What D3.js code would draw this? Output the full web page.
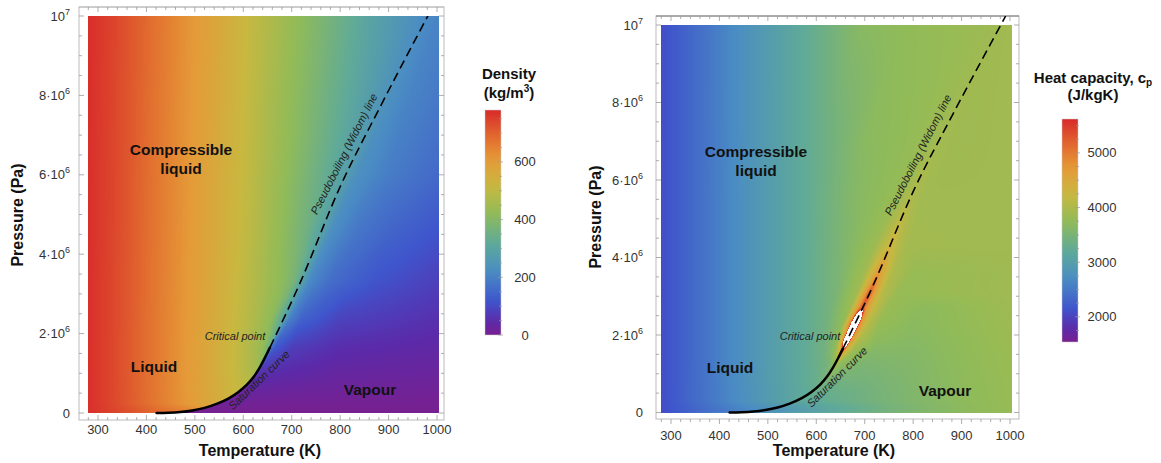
<!DOCTYPE html>
<html>
<head>
<meta charset="utf-8">
<title>Density and heat capacity maps</title>
<script src="https://cdnjs.cloudflare.com/ajax/libs/d3/7.8.5/d3.min.js"></script>
<style>
  body { margin: 0; background: #fff; }
  svg { display: block; }
  text { font-family: "Liberation Sans", Arial, sans-serif; }
</style>
</head>
<body>
<svg id="chart" width="1161" height="463"></svg>
<script>
/* global d3 */
// saturation curve, T (K) against P (Pa)
var satT = [421, 445, 470, 495, 520, 545, 570, 590, 608, 622, 635, 645, 655]
var satP = [0, 0.006e6, 0.025e6, 0.065e6, 0.13e6, 0.23e6, 0.37e6, 0.53e6, 0.72e6, 0.92e6, 1.17e6, 1.4e6, 1.65e6]
// pseudoboiling (Widom) line, from the critical point up
var widomT = [655, 717, 800, 883, 981, 991]
var widomP = [1.65e6, 3.27e6, 5.7e6, 7.72e6, 10e6, 10.23e6]

var tempTicks = [300, 400, 500, 600, 700, 800, 900, 1000]
var pressTicks = [0, 2e6, 4e6, 6e6, 8e6, 10e6]
var densityTicks = [0, 200, 400, 600]
var cpTicks = [2000, 3000, 4000, 5000]
var tempRange = [280, 1005]
var densityRange = [0, 780]
var cpRange = [1540, 5620]

// density (kg/m3), read row by row: [T, rho] left of the boundary and right of it
var densityP = [0, 0.25e6, 0.6e6, 1.1e6, 1.65e6, 2.4e6, 3.3e6, 4.5e6, 6e6, 8e6, 10.23e6]
var densityLiquid = [
  [[280, 772], [330, 738], [380, 698], [421, 668]],
  [[280, 772], [330, 738], [380, 698], [440, 646], [500, 592], [548, 550]],
  [[280, 772], [330, 738], [380, 698], [440, 646], [500, 592], [550, 546], [596, 500]],
  [[280, 772], [330, 738], [380, 698], [440, 646], [500, 592], [560, 534], [610, 478], [631, 448]],
  [[280, 772], [330, 738], [380, 698], [440, 646], [500, 593], [560, 536], [610, 480], [640, 430], [655, 340]],
  [[280, 772], [330, 739], [380, 699], [440, 647], [500, 594], [560, 538], [620, 475], [660, 415], [684, 300]],
  [[280, 772], [330, 739], [380, 700], [440, 648], [500, 596], [560, 541], [620, 481], [680, 415], [705, 370], [718, 300]],
  [[280, 773], [330, 740], [380, 701], [440, 650], [500, 598], [560, 545], [620, 488], [680, 420], [730, 355], [759, 290]],
  [[280, 773], [330, 741], [380, 702], [440, 652], [500, 601], [560, 549], [620, 493], [680, 430], [740, 365], [790, 310], [812, 275]],
  [[280, 774], [330, 742], [380, 704], [440, 655], [500, 604], [560, 553], [620, 497], [680, 440], [740, 385], [800, 330], [860, 275], [895, 240]],
  [[280, 775], [330, 744], [380, 706], [440, 658], [500, 608], [560, 558], [620, 503], [680, 452], [740, 400], [800, 350], [860, 298], [920, 255], [970, 222], [991, 212]]
]
var densityVapour = [
  [[421, 2], [1005, 1]],
  [[548, 14], [600, 11], [800, 7], [1005, 5]],
  [[596, 34], [650, 27], [800, 18], [1005, 13]],
  [[631, 70], [680, 52], [800, 33], [1005, 25]],
  [[655, 190], [665, 125], [700, 80], [800, 52], [1005, 38]],
  [[684, 300], [695, 205], [720, 145], [800, 88], [1005, 57]],
  [[718, 300], [735, 215], [780, 160], [870, 115], [1005, 80]],
  [[759, 290], [780, 225], [830, 178], [900, 145], [1005, 112]],
  [[812, 275], [835, 232], [900, 190], [1005, 153]],
  [[895, 240], [930, 210], [1005, 182]],
  [[991, 212], [1005, 205]]
]

// heat capacity cp (J/kgK), same layout
var cpP = [0, 0.3e6, 0.8e6, 1.3e6, 1.65e6, 1.9e6, 2.3e6, 2.7e6, 3.1e6, 3.6e6, 4.3e6, 5.5e6, 7e6, 10.23e6]
var cpLiquid = [
  [[280, 2080], [330, 2290], [380, 2480], [421, 2640]],
  [[280, 2080], [330, 2290], [380, 2480], [430, 2680], [480, 2880], [530, 3060], [557, 3150]],
  [[280, 2080], [330, 2290], [380, 2480], [430, 2680], [480, 2880], [530, 3060], [580, 3240], [614, 3400]],
  [[280, 2080], [330, 2290], [380, 2480], [430, 2680], [480, 2880], [530, 3060], [580, 3240], [620, 3430], [641, 3720]],
  [[280, 2080], [330, 2290], [380, 2480], [430, 2680], [480, 2880], [530, 3060], [580, 3240], [620, 3440], [640, 3750], [650, 4400], [655, 6000]],
  [[280, 2080], [330, 2290], [380, 2480], [430, 2680], [480, 2880], [530, 3060], [580, 3240], [620, 3430], [645, 3750], [656, 4800], [664.6, 9000]],
  [[280, 2080], [330, 2290], [380, 2480], [430, 2680], [480, 2880], [530, 3060], [580, 3240], [620, 3420], [655, 3750], [670, 4900], [680, 9000]],
  [[280, 2080], [330, 2290], [380, 2480], [430, 2680], [480, 2880], [530, 3060], [580, 3240], [630, 3460], [670, 3850], [686, 4700], [695, 5400]],
  [[280, 2080], [330, 2290], [380, 2480], [430, 2680], [480, 2880], [530, 3060], [580, 3240], [640, 3500], [685, 3900], [702, 4700], [710.5, 5300]],
  [[280, 2080], [330, 2290], [380, 2480], [430, 2680], [480, 2880], [530, 3060], [580, 3240], [650, 3540], [700, 3900], [720, 4450], [728, 4800]],
  [[280, 2080], [330, 2290], [380, 2480], [430, 2680], [480, 2880], [530, 3060], [580, 3240], [660, 3580], [720, 3850], [742, 4150], [752, 4350]],
  [[280, 2080], [330, 2290], [380, 2480], [430, 2680], [480, 2880], [530, 3060], [580, 3240], [680, 3640], [760, 3800], [793, 4020]],
  [[280, 2080], [330, 2290], [380, 2480], [430, 2680], [480, 2880], [530, 3060], [580, 3240], [700, 3680], [800, 3780], [853, 3900]],
  [[280, 2080], [330, 2290], [380, 2480], [430, 2680], [480, 2880], [530, 3060], [580, 3240], [700, 3690], [800, 3760], [900, 3820], [991, 3870]]
]
var cpVapour = [
  [[421, 2600], [500, 2870], [600, 3150], [700, 3400], [800, 3570], [900, 3700], [1005, 3800]],
  [[557, 3180], [600, 3230], [700, 3420], [800, 3580], [900, 3710], [1005, 3810]],
  [[614, 3480], [640, 3420], [700, 3460], [800, 3590], [900, 3720], [1005, 3820]],
  [[641, 3950], [660, 3680], [700, 3540], [800, 3610], [900, 3730], [1005, 3830]],
  [[655, 6000], [663, 4400], [680, 3850], [720, 3640], [800, 3630], [900, 3740], [1005, 3840]],
  [[664.6, 9000], [673, 4800], [688, 4050], [720, 3720], [800, 3650], [1005, 3850]],
  [[680, 9000], [690, 4900], [703, 4150], [730, 3800], [800, 3680], [1005, 3860]],
  [[695, 5400], [704, 4700], [718, 4200], [745, 3820], [820, 3700], [1005, 3870]],
  [[710.5, 5300], [719, 4700], [735, 4100], [770, 3800], [1005, 3880]],
  [[728, 4800], [737, 4450], [757, 4000], [800, 3800], [1005, 3880]],
  [[752, 4350], [765, 4100], [790, 3900], [1005, 3890]],
  [[793, 4020], [815, 3890], [1005, 3890]],
  [[853, 3900], [900, 3870], [1005, 3900]],
  [[991, 3870], [1005, 3900]]
]

var rainbowAt = [0, 0.06, 0.15, 0.28, 0.41, 0.54, 0.66, 0.78, 0.87, 1]
var rainbowColors = ['#782090', '#5b2aa9', '#3f55cc', '#4a8cc4', '#5faa98', '#90bb58', '#c8b840', '#e59a38', '#e2702f', '#d82a2a']
var rainbow = d3.scaleLinear().domain(rainbowAt).range(rainbowColors).clamp(true)

var svg = d3.select('#chart')

var satScale = d3.scaleLinear().domain(satP).range(satT)
var widomScale = d3.scaleLinear().domain(widomP).range(widomT)
function boundary (p) {
  return p <= satP[satP.length - 1] ? satScale(p) : widomScale(p)
}

var panels = [
  {
    key: 'density',
    x: d3.scaleLinear().domain([300, 1000]).range([98, 437]),
    y: d3.scaleLinear().domain([0, 1e7]).range([413, 16]),
    frame: [79, 7, 444, 420],
    topStroke: '#bbb',
    bottomOut: false,
    xLabelY: 433.5,
    yLabelX: 70,
    pressTitle: [17, 215],
    tempTitle: [260, 456],
    rowsP: densityP, liquid: densityLiquid, vapour: densityVapour,
    range: densityRange, ticks: densityTicks, minorStep: 50,
    bar: { x: 485, top: 110, bottom: 335, labelX: 525 },
    title: [509, 79, 98],
    labels: { comp: [181, 155, 174], liq: [154, 372], vap: [370, 395], crit: [235, 340], sat: [259, 380, -44], widom: [344, 154, -63] },
    widomClip: 'heat'
  },
  {
    key: 'cp',
    x: d3.scaleLinear().domain([300, 1000]).range([671, 1010]),
    y: d3.scaleLinear().domain([0, 1e7]).range([412.5, 25]),
    frame: [656, 16, 1019, 419],
    topStroke: '#777',
    bottomOut: true,
    xLabelY: 439.5,
    yLabelX: 643,
    pressTitle: [595, 217],
    tempTitle: [834, 456],
    rowsP: cpP, liquid: cpLiquid, vapour: cpVapour,
    range: cpRange, ticks: cpTicks, minorStep: 250,
    bar: { x: 1062, top: 119, bottom: 342, labelX: 1102 },
    title: [1093, 83, 100],
    labels: { comp: [756, 157, 176], liq: [730, 373], vap: [945, 396], crit: [810, 340], sat: [837, 377, -45], widom: [918, 155, -63] },
    widomClip: 'frame'
  }
]

function buildRows (cfg) {
  var t0 = tempRange[0]
  var t1 = tempRange[1]
  return cfg.rowsP.map(function (p, i) {
    var tb = boundary(p)
    var ls = cfg.liquid[i].map(function (d) { return Math.min(1, (d[0] - t0) / (tb - t0)) })
    ls[ls.length - 1] = 1
    var vs = cfg.vapour[i].map(function (d) { return Math.max(0, (d[0] - tb) / (t1 - tb)) })
    vs[0] = 0
    return {
      liq: d3.scaleLinear().domain(ls).range(cfg.liquid[i].map(function (d) { return d[1] })).clamp(true),
      vap: d3.scaleLinear().domain(vs).range(cfg.vapour[i].map(function (d) { return d[1] })).clamp(true)
    }
  })
}

function fieldImage (cfg) {
  var x0 = Math.round(cfg.x(tempRange[0]))
  var x1 = Math.round(cfg.x(tempRange[1]))
  var y0 = Math.round(cfg.y(1e7))
  var y1 = Math.round(cfg.y(0))
  var w = x1 - x0
  var h = y1 - y0
  var canvas = document.createElement('canvas')
  canvas.width = w
  canvas.height = h
  var ctx = canvas.getContext('2d')
  var img = ctx.createImageData(w, h)
  var rows = buildRows(cfg)
  var lut = d3.range(1024).map(function (i) { return d3.rgb(rainbow(i / 1023)) })
  var norm = d3.scaleLinear().domain(cfg.range).range([0, 1023]).clamp(true)
  var vmax = cfg.range[1]
  var t0 = tempRange[0]
  var t1 = tempRange[1]
  for (var j = 0; j < h; j++) {
    var p = cfg.y.invert(y0 + j + 0.5)
    var k = Math.min(Math.max(d3.bisectRight(cfg.rowsP, p) - 1, 0), cfg.rowsP.length - 2)
    var f = Math.max(0, Math.min(1, (p - cfg.rowsP[k]) / (cfg.rowsP[k + 1] - cfg.rowsP[k])))
    var tb = boundary(Math.max(p, 0))
    for (var i = 0; i < w; i++) {
      var t = cfg.x.invert(x0 + i + 0.5)
      var v, s
      if (t <= tb) {
        s = (t - t0) / (tb - t0)
        v = (1 - f) * rows[k].liq(s) + f * rows[k + 1].liq(s)
      } else {
        s = (t - tb) / (t1 - tb)
        v = (1 - f) * rows[k].vap(s) + f * rows[k + 1].vap(s)
      }
      var o = (j * w + i) * 4
      if (v > vmax) {
        img.data[o] = 255; img.data[o + 1] = 255; img.data[o + 2] = 255
      } else {
        var c = lut[Math.round(norm(v))]
        img.data[o] = c.r; img.data[o + 1] = c.g; img.data[o + 2] = c.b
      }
      img.data[o + 3] = 255
    }
  }
  ctx.putImageData(img, 0, 0)
  return { href: canvas.toDataURL(), x: x0, y: y0, w: w, h: h }
}

function pressLabel (sel, v) {
  if (v === 0) {
    sel.text('0')
  } else if (v === 1e7) {
    sel.append('tspan').text('10')
    sel.append('tspan').attr('font-size', '9px').attr('dy', '-6').text('7')
  } else {
    sel.append('tspan').text((v / 1e6) + '\u00b710')
    sel.append('tspan').attr('font-size', '9px').attr('dy', '-6').text('6')
  }
}

var defs = svg.append('defs')

panels.forEach(function (cfg) {
  var g = svg.append('g').attr('class', 'panel-' + cfg.key)
  var x = cfg.x
  var y = cfg.y
  var fr = cfg.frame

  // heat map
  var field = fieldImage(cfg)
  g.append('image')
    .attr('href', field.href)
    .attr('x', field.x)
    .attr('y', field.y)
    .attr('width', field.w)
    .attr('height', field.h)
    .attr('preserveAspectRatio', 'none')

  // frame
  g.append('rect')
    .attr('x', fr[0]).attr('y', fr[1])
    .attr('width', fr[2] - fr[0]).attr('height', fr[3] - fr[1])
    .attr('fill', 'none').attr('stroke', '#bbb').attr('stroke-width', 1)
  g.append('line')
    .attr('x1', fr[0]).attr('x2', fr[2]).attr('y1', fr[1]).attr('y2', fr[1])
    .attr('stroke', cfg.topStroke).attr('stroke-width', 1.2)

  var ticks = g.append('g').attr('stroke', '#999').attr('stroke-width', 0.8)
  d3.range(280, 1001, 20).forEach(function (t) {
    var len = t % 100 === 0 ? 5 : 3
    var xx = x(t)
    ticks.append('line').attr('x1', xx).attr('x2', xx).attr('y1', fr[1]).attr('y2', fr[1] + len)
    ticks.append('line').attr('x1', xx).attr('x2', xx).attr('y1', fr[3])
      .attr('y2', cfg.bottomOut ? fr[3] + len : fr[3] - len)
  })
  d3.range(0, 1e7 + 1, 5e5).forEach(function (p) {
    var len = p % 2e6 === 0 ? 5 : 3
    var yy = y(p)
    ticks.append('line').attr('x1', fr[0]).attr('x2', fr[0] + len).attr('y1', yy).attr('y2', yy)
    ticks.append('line').attr('x1', fr[2]).attr('x2', fr[2] - len).attr('y1', yy).attr('y2', yy)
  })

  // tick labels
  g.selectAll('.tlab')
    .data(tempTicks)
    .enter()
    .append('text')
    .attr('class', 'tlab')
    .attr('x', function (d) { return x(d) })
    .attr('y', cfg.xLabelY)
    .attr('text-anchor', 'middle')
    .attr('font-size', '13px')
    .attr('fill', '#333')
    .text(function (d) { return d })

  g.selectAll('.plab')
    .data(pressTicks)
    .enter()
    .append('text')
    .attr('class', 'plab')
    .attr('x', cfg.yLabelX)
    .attr('y', function (d) { return y(d) + 4.5 })
    .attr('text-anchor', 'end')
    .attr('font-size', '13px')
    .attr('fill', '#333')
    .each(function (d) { pressLabel(d3.select(this), d) })

  g.append('text')
    .attr('x', cfg.tempTitle[0]).attr('y', cfg.tempTitle[1])
    .attr('text-anchor', 'middle')
    .attr('font-size', '16px').attr('font-weight', 'bold')
    .attr('fill', '#111')
    .text('Temperature (K)')
  g.append('text')
    .attr('transform', 'translate(' + cfg.pressTitle[0] + ',' + cfg.pressTitle[1] + ') rotate(-90)')
    .attr('text-anchor', 'middle')
    .attr('dy', '0.35em')
    .attr('font-size', '16px').attr('font-weight', 'bold')
    .attr('fill', '#111')
    .text('Pressure (Pa)')

  // saturation curve and Widom line
  var clipId = 'clip-' + cfg.key
  var clipBox = cfg.widomClip === 'frame'
    ? [fr[0], fr[1], fr[2] - fr[0], fr[3] - fr[1]]
    : [field.x, field.y, field.w, field.h]
  defs.append('clipPath').attr('id', clipId)
    .append('rect')
    .attr('x', clipBox[0]).attr('y', clipBox[1])
    .attr('width', clipBox[2]).attr('height', clipBox[3])

  var line = d3.line()
    .x(function (d) { return x(d[0]) })
    .y(function (d) { return y(d[1]) })

  g.append('path')
    .datum(satT.map(function (t, i) { return [t, satP[i]] }))
    .attr('d', line.curve(d3.curveMonotoneX))
    .attr('fill', 'none')
    .attr('stroke', '#000')
    .attr('stroke-width', 2.5)
    .attr('stroke-linecap', 'round')

  g.append('path')
    .datum(widomT.map(function (t, i) { return [t, widomP[i]] }))
    .attr('d', line.curve(d3.curveMonotoneX))
    .attr('clip-path', 'url(#' + clipId + ')')
    .attr('fill', 'none')
    .attr('stroke', '#000')
    .attr('stroke-width', 1.6)
    .attr('stroke-dasharray', '9,5')

  // region labels
  var lb = cfg.labels
  var big = g.append('g')
    .attr('font-size', '15.5px').attr('font-weight', 'bold')
    .attr('fill', '#111').attr('text-anchor', 'middle')
  big.append('text').attr('x', lb.comp[0]).attr('y', lb.comp[1]).text('Compressible')
  big.append('text').attr('x', lb.comp[0]).attr('y', lb.comp[2]).text('liquid')
  big.append('text').attr('x', lb.liq[0]).attr('y', lb.liq[1]).text('Liquid')
  big.append('text').attr('x', lb.vap[0]).attr('y', lb.vap[1]).text('Vapour')

  var small = g.append('g')
    .attr('font-size', '11px').attr('font-style', 'italic')
    .attr('fill', '#222').attr('text-anchor', 'middle')
  small.append('text').attr('x', lb.crit[0]).attr('y', lb.crit[1]).text('Critical point')
  small.append('text')
    .attr('transform', 'translate(' + lb.sat[0] + ',' + lb.sat[1] + ') rotate(' + lb.sat[2] + ')')
    .attr('dy', '0.35em')
    .text('Saturation curve')
  small.append('text')
    .attr('transform', 'translate(' + lb.widom[0] + ',' + lb.widom[1] + ') rotate(' + lb.widom[2] + ')')
    .attr('dy', '0.35em')
    .text('Pseudoboiling (Widom) line')

  // colour bar
  var bar = cfg.bar
  var cb = d3.scaleLinear().domain(cfg.range).range([bar.bottom, bar.top])
  var gradId = 'grad-' + cfg.key
  var grad = defs.append('linearGradient').attr('id', gradId)
    .attr('x1', 0).attr('y1', 1).attr('x2', 0).attr('y2', 0)
  d3.range(0, 1.0001, 0.05).forEach(function (u) {
    grad.append('stop').attr('offset', u).attr('stop-color', rainbow(u))
  })
  g.append('rect')
    .attr('x', bar.x).attr('y', bar.top)
    .attr('width', 16).attr('height', bar.bottom - bar.top)
    .attr('fill', 'url(#' + gradId + ')')
    .attr('stroke', '#ccc').attr('stroke-width', 0.5)
  var cbTicks = g.append('g').attr('stroke', '#999').attr('stroke-width', 0.7)
  d3.range(Math.ceil(cfg.range[0] / cfg.minorStep) * cfg.minorStep, cfg.range[1], cfg.minorStep).forEach(function (v) {
    var major = cfg.ticks.indexOf(v) >= 0
    cbTicks.append('line')
      .attr('x1', bar.x + 16 - (major ? 3 : 2)).attr('x2', bar.x + 16 + (major ? 2 : 1))
      .attr('y1', cb(v)).attr('y2', cb(v))
  })
  g.selectAll('.cblab')
    .data(cfg.ticks)
    .enter()
    .append('text')
    .attr('class', 'cblab')
    .attr('x', bar.labelX)
    .attr('y', function (d) { return cb(d) + 4.5 })
    .attr('text-anchor', 'middle')
    .attr('font-size', '13px')
    .attr('fill', '#333')
    .text(function (d) { return d })

  var tt = g.append('g')
    .attr('font-size', '15px').attr('font-weight', 'bold')
    .attr('fill', '#111').attr('text-anchor', 'middle')
  if (cfg.key === 'density') {
    tt.append('text').attr('x', cfg.title[0]).attr('y', cfg.title[1]).text('Density')
    var t2 = tt.append('text').attr('x', cfg.title[0]).attr('y', cfg.title[2])
    t2.append('tspan').text('(kg/m')
    t2.append('tspan').attr('font-size', '10px').attr('dy', '-6').text('3')
    t2.append('tspan').attr('dy', '6').text(')')
  } else {
    var t1 = tt.append('text').attr('x', cfg.title[0]).attr('y', cfg.title[1])
    t1.append('tspan').text('Heat capacity, c')
    t1.append('tspan').attr('font-size', '10px').attr('dy', '3').text('p')
    tt.append('text').attr('x', cfg.title[0]).attr('y', cfg.title[2]).text('(J/kgK)')
  }
})
</script>
</body>
</html>
